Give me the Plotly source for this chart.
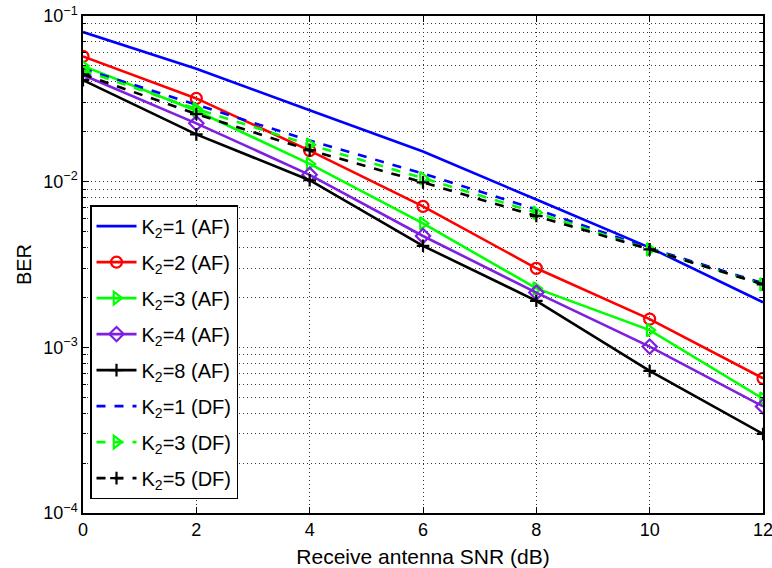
import plotly.graph_objects as go

snr = [0, 2, 4, 6, 8, 10, 12]
af_k1 = [0.080, 0.048, 0.027, 0.0152, 0.0078, 0.0040, 0.00187]
af_k2 = [0.057, 0.0318, 0.0154, 0.0071, 0.0030, 0.00148, 0.00065]
af_k3 = [0.050, 0.0268, 0.0128, 0.0056, 0.00227, 0.00127, 0.00049]
af_k4 = [0.044, 0.0225, 0.0110, 0.0047, 0.00214, 0.00101, 0.00044]
af_k8 = [0.041, 0.0193, 0.0102, 0.0041, 0.00191, 0.00072, 0.00030]
df_k1 = [0.048, 0.0290, 0.0177, 0.0112, 0.0068, 0.00396, 0.00244]
df_k3 = [0.047, 0.0275, 0.0167, 0.0105, 0.0065, 0.0039, 0.0024]
df_k5 = [0.0445, 0.0256, 0.0155, 0.0099, 0.0062, 0.0039, 0.0024]

names = ["K<sub>2</sub>=1 (AF)", "K<sub>2</sub>=2 (AF)", "K<sub>2</sub>=3 (AF)",
         "K<sub>2</sub>=4 (AF)", "K<sub>2</sub>=8 (AF)", "K<sub>2</sub>=1 (DF)",
         "K<sub>2</sub>=3 (DF)", "K<sub>2</sub>=5 (DF)"]
ytick_vals = [1e-4, 1e-3, 1e-2, 1e-1]
ytick_text = ["10<sup>−4</sup>", "10<sup>−3</sup>", "10<sup>−2</sup>", "10<sup>−1</sup>"]

BLUE = "#0000FF"
RED = "#FF0000"
GREEN = "#00FF00"
PURPLE = "#7F1FE0"
BLACK = "#000000"
FONT = "Liberation Sans, Arial, Helvetica"

series = [
    (af_k1, BLUE, "solid", None, 0),
    (af_k2, RED, "solid", "circle-open", 11),
    (af_k3, GREEN, "solid", "triangle-right-open", 11),
    (af_k4, PURPLE, "solid", "diamond-open", 11),
    (af_k8, BLACK, "solid", "cross-thin", 9),
    (df_k1, BLUE, "dash", None, 0),
    (df_k3, GREEN, "dash", "triangle-right-open", 11),
    (df_k5, BLACK, "dash", "cross-thin", 9),
]

fig = go.Figure()
for i, ((vals, color, dash, sym, msize), name) in enumerate(zip(series, names)):
    mode = "lines+markers" if sym else "lines"
    marker = dict(symbol=sym, size=msize, color=color,
                  line=dict(color=color, width=2.2)) if sym else None
    fig.add_trace(go.Scatter(
        x=snr, y=vals, name=name, mode=mode, legendgroup=f"g{i}",
        line=dict(color=color, width=2.6, dash=dash),
        marker=marker,
    ))

GRID = "#333333"
GDASH = "1px,3px"

fig.update_xaxes(
    range=[0, 12], tickvals=snr, ticktext=[str(v) for v in snr],
    showgrid=True, gridcolor=GRID, gridwidth=1, griddash=GDASH,
    showline=True, linecolor="black", linewidth=1.5, mirror="ticks",
    ticks="inside", ticklen=6, tickcolor="black", zeroline=False,
    tickfont=dict(family=FONT, size=18, color="black"),
    automargin=False, ticklabeloverflow="allow",
    title=dict(text="Receive antenna SNR (dB)",
               font=dict(family=FONT, size=21, color="black"),
               standoff=10),
)
fig.update_yaxes(
    type="log", range=[-4, -1], tickvals=ytick_vals, ticktext=ytick_text,
    showgrid=True, gridcolor=GRID, gridwidth=1, griddash=GDASH,
    showline=True, linecolor="black", linewidth=1.5, mirror="ticks",
    ticks="inside", ticklen=6, tickcolor="black", zeroline=False,
    tickfont=dict(family=FONT, size=18, color="black"),
    automargin=False, ticklabeloverflow="allow",
    minor=dict(showgrid=True, gridcolor=GRID, gridwidth=1, griddash=GDASH,
               ticks="inside", ticklen=3, tickcolor="black",
               tickvals=[m * 10 ** e for e in (-4, -3, -2) for m in range(2, 10)]),
    title=dict(text="BER",
               font=dict(family=FONT, size=20, color="black"),
               standoff=6),
)

fig.update_layout(
    width=772, height=568,
    margin=dict(l=83, r=9, t=16, b=55, autoexpand=False),
    paper_bgcolor="white", plot_bgcolor="white",
    font=dict(family=FONT, color="black"),
    legend=dict(
        x=0.0103, y=0.028, xanchor="left", yanchor="bottom",
        bgcolor="white", bordercolor="black", borderwidth=1.5,
        font=dict(family=FONT, size=20, color="black"),
        tracegroupgap=7, itemwidth=40,
    ),
)

# remove the browser's default 8px body margin so the figure sits at (0, 0)
fig.write_html("out.html", config={"displayModeBar": False},
               post_script="document.body.style.margin='0';")
